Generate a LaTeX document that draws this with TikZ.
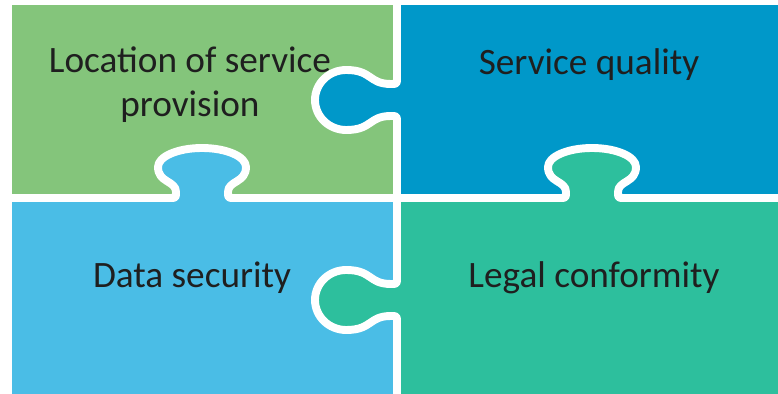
\documentclass[tikz,border=0pt]{standalone}
\usepackage{fontspec}
\setmainfont{Carlito}
\usepackage{tikz}
\definecolor{cLoc}{HTML}{84C57B}
\definecolor{cQual}{HTML}{0098C9}
\definecolor{cSec}{HTML}{4ABDE6}
\definecolor{cLeg}{HTML}{2DBF9D}
% tab sizes (in px units): depth, head half size, neck half width, fillet
\def\hD{82}\def\hH{30}\def\hN{16}
\def\vD{50}\def\vH{44}\def\vN{26}
\def\tR{6}
\tikzset{
  piece/.style={draw=white, line width=4.5pt, line join=round},
  lab/.style={font=\fontsize{21.2}{25}\selectfont, text=black!88, align=center},
  ltab/.style 2 args={insert path={
    -- ({#1},{#2+\hN+\tR}) .. controls ({#1},{#2+\hN}) .. ({#1-\tR},{#2+\hN})
    .. controls ({#1-0.35*\hD},{#2+\hN}) and ({#1-0.3*\hD},{#2+\hH}) .. ({#1-0.62*\hD},{#2+\hH})
    .. controls ({#1-0.83*\hD},{#2+\hH}) and ({#1-\hD},{#2+0.552*\hH}) .. ({#1-\hD},{#2})
    .. controls ({#1-\hD},{#2-0.552*\hH}) and ({#1-0.83*\hD},{#2-\hH}) .. ({#1-0.62*\hD},{#2-\hH})
    .. controls ({#1-0.3*\hD},{#2-\hH}) and ({#1-0.35*\hD},{#2-\hN}) .. ({#1-\tR},{#2-\hN})
    .. controls ({#1},{#2-\hN}) .. ({#1},{#2-\hN-\tR})}},
  ttab/.style 2 args={insert path={
    -- ({#2-\vN-\tR},{#1}) .. controls ({#2-\vN},{#1}) .. ({#2-\vN},{#1-\tR})
    .. controls ({#2-\vN},{#1-0.35*\vD}) and ({#2-\vH},{#1-0.3*\vD}) .. ({#2-\vH},{#1-0.62*\vD})
    .. controls ({#2-\vH},{#1-0.83*\vD}) and ({#2-0.552*\vH},{#1-\vD}) .. ({#2},{#1-\vD})
    .. controls ({#2+0.552*\vH},{#1-\vD}) and ({#2+\vH},{#1-0.83*\vD}) .. ({#2+\vH},{#1-0.62*\vD})
    .. controls ({#2+\vH},{#1-0.3*\vD}) and ({#2+\vN},{#1-0.35*\vD}) .. ({#2+\vN},{#1-\tR})
    .. controls ({#2+\vN},{#1}) .. ({#2+\vN+\tR},{#1})}},
}

\begin{document}
\begin{tikzpicture}[x=0.02cm, y=-0.02cm]
\useasboundingbox (0,0) rectangle (778,394);
\clip (0,0) rectangle (778,394);
% pieces, the ones with holes first
\draw[piece, fill=cLoc] (8,1) rectangle (397,198);
\draw[piece, fill=cQual] (790,1) -- (790,198) -- (397,198) [ltab={397}{100}] -- (397,1) -- cycle;
\draw[piece, fill=cSec] (8,405) -- (8,198) [ttab={198}{202}] -- (397,198) -- (397,405) -- cycle;
\draw[piece, fill=cLeg] (790,405) -- (397,405) [ltab={397}{300}] -- (397,198) [ttab={198}{592}] -- (790,198) -- cycle;
% labels
\node[lab] (loc) at (190,85) {Location of service\\provision};
\node[lab, anchor=base] (qual) at (589,75) {Service quality};
\node[lab, anchor=base] (sec) at (192,288) {Data security};
\node[lab, anchor=base] (legal) at (594,288) {Legal conformity};
\end{tikzpicture}
\end{document}
